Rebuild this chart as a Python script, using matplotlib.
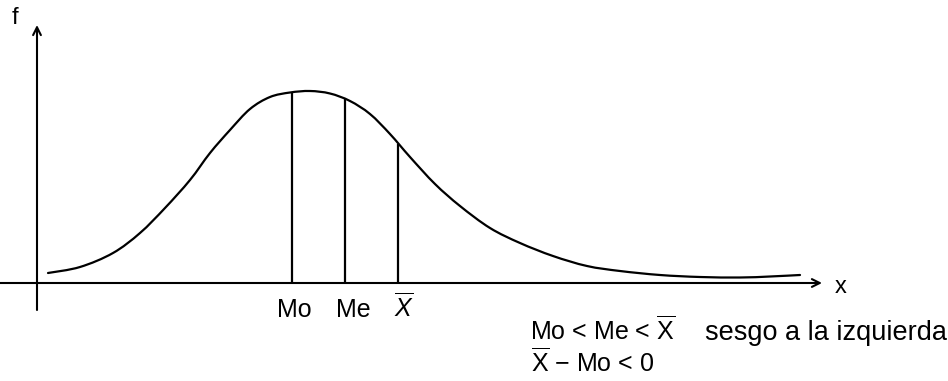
import numpy as np
import matplotlib.pyplot as plt
from matplotlib.path import Path
from matplotlib.patches import PathPatch

plt.rcParams['font.family'] = ['Liberation Sans', 'DejaVu Sans']
plt.rcParams['mathtext.fontset'] = 'custom'
plt.rcParams['mathtext.rm'] = 'Liberation Sans'
plt.rcParams['mathtext.it'] = 'Liberation Sans:italic'

# curve (x to the right, f upward, origin at the axes cross)
curve_x = [11, 43, 76, 103, 128, 153, 173, 193, 213, 233, 253, 273, 293, 313,
           333, 353, 373, 398, 423, 453, 483, 516, 550, 583, 623, 663, 703,
           733, 763]
curve_y = [10, 16, 30, 50, 75, 103, 130, 153, 174, 186, 190.5, 192, 189.5,
           182, 169, 149, 126, 99, 77, 55, 40, 27, 17, 12, 8, 6, 5.5, 6.5, 8]

stat_names = ['Mo', 'Me', r'$\overline{X}$']
stat_x = [255, 308, 361]
stat_y = [191, 184, 139]


def smooth_path(xs, ys):
    # Catmull-Rom -> cubic Bezier control points
    pts = np.column_stack([xs, ys]).astype(float)
    verts = [pts[0]]
    codes = [Path.MOVETO]
    for i in range(len(pts) - 1):
        p0 = pts[max(i - 1, 0)]
        p1 = pts[i]
        p2 = pts[i + 1]
        p3 = pts[min(i + 2, len(pts) - 1)]
        c1 = p1 + (p2 - p0) / 6
        c2 = p2 - (p3 - p1) / 6
        verts += [c1, c2, p2]
        codes += [Path.CURVE4] * 3
    return Path(verts, codes)


fig = plt.figure(figsize=(9.48, 3.81), dpi=100)
ax = fig.add_axes([0, 0, 1, 1])
ax.set_xlim(-37, 911)
ax.set_ylim(-98, 283)
ax.axis('off')

arrow = dict(arrowstyle='->', lw=1.5, color='black', mutation_scale=14,
             shrinkA=0, shrinkB=0)
ax.annotate('', xy=(785, 0), xytext=(-37, 0), arrowprops=arrow)
ax.annotate('', xy=(0, 258), xytext=(0, -27), arrowprops=arrow)

ax.add_patch(PathPatch(smooth_path(curve_x, curve_y), fill=False,
                       lw=1.6, edgecolor='black', capstyle='round'))

ax.vlines(stat_x, 0, stat_y, colors='black', lw=1.6)
for name, x, dx in zip(stat_names, stat_x, [2, 8, 6]):
    ax.text(x + dx, -34, name, fontsize=18, ha='center', va='baseline')

ax.text(804, -4, 'x', fontsize=17, ha='center', va='center')
ax.text(-22, 265, 'f', fontsize=17, ha='center', va='center')

ax.text(493, -57, r'Mo < Me < $\overline{\mathrm{X}}$',
        fontsize=18, ha='left', va='baseline')
ax.text(668, -57, 'sesgo a la izquierda',
        fontsize=19.5, ha='left', va='baseline')
ax.text(494, -89, r'$\overline{\mathrm{X}}$ − Mo < 0',
        fontsize=18, ha='left', va='baseline')

fig.savefig('out.png', dpi=100)
